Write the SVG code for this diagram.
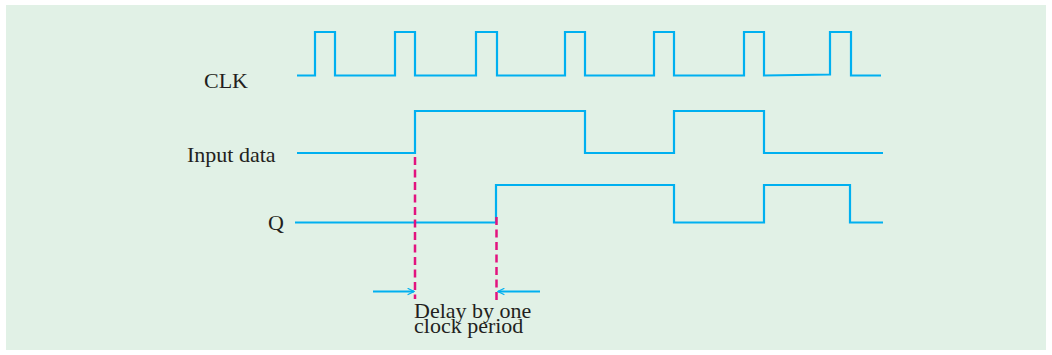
<svg xmlns="http://www.w3.org/2000/svg" width="1052" height="355" viewBox="0 0 1052 355">
<style>
.sig{fill:none;stroke:#00b0f0;stroke-width:2.2;stroke-linejoin:miter}
.dash{fill:none;stroke:#e2137f;stroke-width:2.5;stroke-dasharray:8 4.5}
.arr{fill:none;stroke:#00b0f0;stroke-width:1.8}
.lbl{font-family:"Liberation Serif",serif;font-size:22px;fill:#231f20}
</style>
<defs>
<marker id="ah" viewBox="0 0 10 10" refX="9" refY="5" markerWidth="8" markerHeight="8" markerUnits="userSpaceOnUse" orient="auto">
<path d="M1,1 L9,5 L1,9" fill="none" stroke="#00b0f0" stroke-width="1.6"/>
</marker>
</defs>
<rect x="6" y="5" width="1040" height="345" fill="#e1f1e6"/>
<g id="clk">
<text class="lbl" x="204" y="88">CLK</text>
<path class="sig" d="M297,75.5 H315 V32 H335 V75.5 H395 V32 H415 V75.5 H476 V32 H497 V75.5 H565 V32 H585 V75.5 H654 V32 H674 V75.5 H744 V32 H764 V75.5 L830,74.5 V32 H851 V75.5 H881"/>
</g>
<g id="input">
<text class="lbl" x="187" y="161.5">Input data</text>
<path class="sig" d="M297,153 H415 V111 H585 V153 H674 V111 H764 V153 H883"/>
</g>
<g id="q">
<text class="lbl" x="268" y="230">Q</text>
<path class="sig" d="M295,222.5 H496 V185 H674 V222.5 H764 V185 H850 V222.5 H883"/>
</g>
<g id="connectors">
<line class="dash" x1="415" y1="157" x2="415" y2="299"/>
<line class="dash" x1="496.5" y1="217" x2="496.5" y2="302"/>
<line class="arr" x1="373" y1="291.5" x2="414" y2="291.5" marker-end="url(#ah)"/>
<line class="arr" x1="540" y1="291.5" x2="498" y2="291.5" marker-end="url(#ah)"/>
</g>
<g id="delay-label">
<text class="lbl" x="414" y="318"><tspan x="414" y="318">Delay by one</tspan><tspan x="414" y="333">clock period</tspan></text>
</g>
</svg>
